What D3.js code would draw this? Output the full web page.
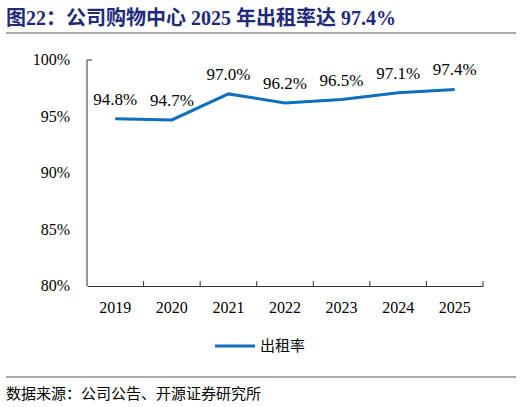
<!DOCTYPE html>
<html><head><meta charset="utf-8">
<script src="https://cdn.jsdelivr.net/npm/d3@7"></script>
<style>body{margin:0;background:#fff}</style></head>
<body><script>
const years=["2019","2020","2021","2022","2023","2024","2025"];
const rates=[94.8,94.7,97.0,96.2,96.5,97.1,97.4];
const yTicks=[80,85,90,95,100];
const W=522,H=407;
const svg=d3.select("body").append("svg").attr("width",W).attr("height",H);
const serif="Liberation Serif, Times New Roman, Times, DejaVu Serif, serif";
const cjk="Noto Sans CJK SC, sans-serif";
svg.append("text").attr("x",6).attr("y",25).attr("fill","#1f2a7a").attr("font-weight","bold")
 .attr("font-size",20).attr("font-family",serif+", "+cjk).text("图22：公司购物中心 2025 年出租率达 97.4%");
svg.append("line").attr("x1",6).attr("x2",516).attr("y1",33).attr("y2",33).attr("stroke","#555").attr("stroke-width",1);
const x=d3.scaleBand().domain(years).range([87,483]);
const y=d3.scaleLinear().domain([80,100]).range([286,60]);
const g=svg.append("g");
g.append("path").attr("d",`M92,${y(100)}H87V${y(80)}`).attr("fill","none").attr("stroke","#333");
yTicks.forEach(t=>g.append("text").attr("x",70).attr("y",y(t)+5).attr("text-anchor","end")
 .attr("font-family",serif).attr("font-size",16).text(t+"%"));
const xa=svg.append("g").attr("transform","translate(0,286)").call(d3.axisBottom(x).tickValues([]).tickSizeOuter(0));
xa.select(".domain").attr("stroke","#333");
x.domain().forEach((d,i)=>{
  svg.append("line").attr("x1",x(d)+x.bandwidth()).attr("x2",x(d)+x.bandwidth()).attr("y1",286).attr("y2",281).attr("stroke","#333");
  svg.append("text").attr("x",x(d)+x.bandwidth()/2).attr("y",313).attr("text-anchor","middle")
   .attr("font-family",serif).attr("font-size",16).text(d);
});
const line=d3.line().x((d,i)=>x(years[i])+x.bandwidth()/2).y(d=>y(d));
svg.append("path").datum(rates).attr("d",line).attr("fill","none").attr("stroke","#0f6fbf").attr("stroke-width",3);
rates.forEach((v,i)=>svg.append("text").attr("x",x(years[i])+x.bandwidth()/2).attr("y",y(v)-14)
 .attr("text-anchor","middle").attr("font-family",serif).attr("font-size",17).text(v.toFixed(1)+"%"));
svg.append("line").attr("x1",215).attr("x2",255).attr("y1",346).attr("y2",346).attr("stroke","#0f6fbf").attr("stroke-width",3);
svg.append("text").attr("x",260).attr("y",351).attr("font-family",cjk).attr("font-size",15).text("出租率");
svg.append("line").attr("x1",6).attr("x2",516).attr("y1",377).attr("y2",377).attr("stroke","#555");
svg.append("text").attr("x",6).attr("y",399).attr("font-family",cjk).attr("font-size",15).text("数据来源：公司公告、开源证券研究所");
</script></body></html>
